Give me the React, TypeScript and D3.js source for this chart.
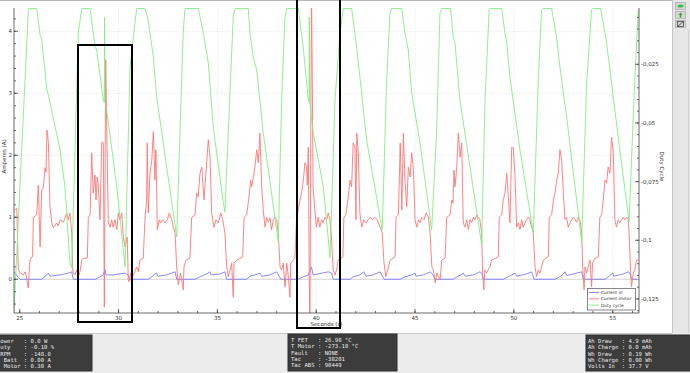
import React from "react";
import * as d3 from "d3";

// ---------- data ----------
const xTicks = [25, 30, 35, 40, 45, 50, 55];
const ampTicks = [0, 1, 2, 3, 4];
const dutyTicks = [-0.025, -0.05, -0.075, -0.1, -0.125];
const dutyTickLabels = ["-0,025", "-0,05", "-0,075", "-0,1", "-0,125"];
const seriesNames = ["Current in", "Current motor", "Duty cycle"];

// Duty cycle (right axis) [seconds, duty]
const dutyCycle: [number, number][] = [
  [24.71, -0.1304], [25.44, -0.0012], [25.86, -0.0012],
  [26.03, -0.01252], [26.11, -0.0138], [26.37, -0.03595], [26.45, -0.03807], [27.04, -0.0615], [27.29, -0.07726], [27.54, -0.10963], [27.63, -0.11176],
  [27.96, -0.01167], [28.14, -0.0012], [28.56, -0.0012],
  [28.81, -0.01763], [28.89, -0.01891], [29.23, -0.0402], [29.28, -0.0411], [29.29, -0.005], [29.31, -0.0411], [29.4, -0.04446], [29.91, -0.07726], [30.33, -0.11133],
  [30.58, -0.02615], [30.83, -0.00741], [30.92, -0.0012], [31.34, -0.0012],
  [31.5, -0.00613], [31.76, -0.02189], [31.93, -0.03893], [32.6, -0.07854], [32.94, -0.09855],
  [33.27, -0.01167], [33.36, -0.0012], [34.03, -0.0012],
  [34.29, -0.01167], [34.54, -0.02445], [34.79, -0.0517], [35.3, -0.08407], [35.38, -0.08791],
  [35.8, -0.00485], [35.89, -0.0012], [36.56, -0.0012],
  [36.65, -0.01167], [36.82, -0.02232], [36.99, -0.02743], [37.32, -0.05426], [38.08, -0.10068],
  [38.25, -0.0402], [38.42, -0.00485], [38.51, -0.0012], [39.09, -0.0012],
  [39.34, -0.01763], [39.6, -0.0402], [39.64, -0.041], [39.65, -0.0049], [39.67, -0.041], [39.85, -0.05426], [40.36, -0.07726], [40.7, -0.1075],
  [40.95, -0.0402], [41.2, -0.01167], [41.37, -0.0012], [41.79, -0.0012],
  [41.96, -0.01167], [42.21, -0.03041], [42.55, -0.05724], [43.34, -0.09557],
  [43.56, -0.03296], [43.73, -0.00315], [43.82, -0.0012], [44.32, -0.0012],
  [44.49, -0.01167], [44.66, -0.01891], [44.83, -0.03722], [45.25, -0.05852], [45.84, -0.09557],
  [46.09, -0.05426], [46.26, -0.00315], [46.35, -0.0012], [46.8, -0.0012],
  [46.93, -0.01337], [47.02, -0.01593], [47.27, -0.0402], [47.78, -0.06874], [48.37, -0.10196],
  [48.54, -0.0402], [48.75, -0.00187], [48.79, -0.0012], [49.38, -0.0012],
  [49.55, -0.01167], [49.64, -0.01593], [49.8, -0.03041], [50.31, -0.0615], [50.98, -0.09685],
  [51.23, -0.03296], [51.4, -0.00187], [51.48, -0.0012], [51.91, -0.0012],
  [52.16, -0.01337], [52.33, -0.02615], [52.67, -0.04745], [53.43, -0.10068],
  [53.68, -0.03296], [53.93, -0.00187], [54.01, -0.0012], [54.39, -0.0012],
  [54.61, -0.01167], [54.69, -0.01593], [54.94, -0.03296], [55.36, -0.0615], [55.83, -0.09216],
  [56.07, -0.0402], [56.29, -0.00187],
];

// Current motor (left axis) [seconds, amperes]
const currentMotor: [number, number][] = [
  [24.71, 1.11], [24.85, 1.15], [24.89, 0.63], [24.93, 0.15], [25.02, 0.1], [25.18, 0.07], [25.27, 0.12], [25.35, 0.02], [25.43, -0.14],
  [25.52, 0.31], [25.61, 0.36], [25.65, 0.36], [25.69, 1.0], [25.86, 1.04], [25.94, 1.52], [26.03, 0.52], [26.11, 1.44], [26.19, 1.47],
  [26.28, 1.8], [26.33, 1.73], [26.38, 2.41], [26.45, 2.2], [26.53, 1.17], [26.62, 0.91], [26.7, 0.83], [26.87, 0.91], [26.95, 0.86],
  [27.04, 0.96], [27.21, 0.92], [27.38, 1.07], [27.46, 0.96], [27.54, 1.07], [27.63, 0.75],
  [27.68, 0.15], [27.71, 0.1], [27.8, 0.07], [27.88, 0.15], [27.96, 0.04], [28.05, 0.12], [28.14, 0.31], [28.22, 0.34], [28.42, 0.34],
  [28.47, 1.0], [28.56, 1.04], [28.64, 2.04], [28.72, 1.39], [28.81, 1.68], [28.86, 1.28], [28.92, 1.65], [28.98, 1.49], [29.06, 0.96],
  [29.15, 2.21], [29.23, 2.2], [29.28, -0.45], [29.35, 3.54], [29.4, 2.46], [29.48, 0.91], [29.57, 0.84], [29.65, 0.96], [29.73, 0.84],
  [29.82, 0.96], [29.91, 0.8], [29.99, 1.07], [30.07, 0.96], [30.16, 1.07], [30.24, 0.68], [30.33, 0.52], [30.44, 0.68], [30.49, -0.01], [30.54, -0.04],
  [30.61, 0.1], [30.75, 0.07], [30.92, 0.2], [31.0, 0.12], [31.08, 0.31], [31.25, 0.34], [31.34, 1.0], [31.42, 1.28], [31.45, 2.2],
  [31.5, 1.07], [31.56, 1.49], [31.59, 1.71], [31.68, 1.92], [31.76, 2.38], [31.84, 1.6], [31.89, 2.09], [31.96, 0.8], [32.06, 0.96],
  [32.13, 0.91], [32.23, 0.96], [32.35, 0.91], [32.47, 0.96], [32.57, 1.07], [32.69, 0.96], [32.77, 0.84], [32.86, 0.75],
  [32.94, 0.2], [33.02, -0.09], [33.14, 0.1], [33.27, -0.17], [33.31, 0.2], [33.41, 0.31], [33.61, 0.34], [33.7, 1.0], [33.87, 1.04],
  [33.95, 1.39], [34.03, 1.33], [34.12, 1.71], [34.21, 1.81], [34.32, 1.28], [34.42, 1.71], [34.54, 2.25], [34.63, 1.97], [34.71, 1.07],
  [34.83, 0.84], [34.93, 0.96], [35.05, 0.91], [35.17, 1.07], [35.27, 0.96], [35.38, 0.75],
  [35.47, 0.2], [35.55, 0.04], [35.64, 0.15], [35.72, 0.26], [35.8, -0.29], [35.84, 0.26], [35.98, 0.31], [36.28, 0.36], [36.35, 1.0],
  [36.48, 1.04], [36.61, 1.36], [36.68, 1.6], [36.73, 1.49], [36.82, 1.65], [36.9, 1.81], [36.99, 2.09], [37.07, 1.88], [37.15, 2.36],
  [37.24, 1.49], [37.32, 1.12], [37.41, 0.84], [37.49, 1.0], [37.57, 0.92], [37.66, 0.99], [37.74, 0.8], [37.83, 0.96], [37.91, 1.0],
  [38.0, 0.96], [38.08, 0.75],
  [38.17, 0.2], [38.25, 0.15], [38.33, 0.26], [38.42, -0.12], [38.51, 0.26], [38.59, 0.04], [38.67, -0.29], [38.71, 0.26], [38.84, 0.31],
  [38.92, 0.34], [39.01, 1.0], [39.09, 1.12], [39.18, 1.28], [39.26, 1.39], [39.34, 1.57], [39.43, 1.88], [39.51, 1.81], [39.55, 1.52],
  [39.6, 2.13], [39.65, -0.06], [39.68, -0.75], [39.76, 4.7], [39.81, 2.89], [39.84, 1.49], [39.93, 1.12], [40.01, 0.84], [40.1, 1.0],
  [40.18, 0.84], [40.27, 0.96], [40.35, 0.91], [40.44, 1.0], [40.53, 0.96], [40.61, 1.07], [40.69, 0.96], [40.78, 0.63],
  [40.86, 0.15], [40.95, 0.07], [41.03, 0.15], [41.11, 0.31], [41.24, 0.34], [41.35, 0.36], [41.4, 1.0], [41.5, 1.04], [41.62, 1.33],
  [41.71, 1.6], [41.79, 1.49], [41.87, 2.2], [41.96, 2.13], [42.01, 0.96], [42.05, 2.36], [42.13, 2.04], [42.21, 1.07], [42.3, 0.84],
  [42.41, 0.96], [42.52, 0.91], [42.63, 0.96], [42.75, 1.0], [42.86, 0.96], [42.97, 1.0], [43.09, 0.96], [43.23, 0.84], [43.34, 0.75],
  [43.43, 0.26], [43.52, 0.04], [43.62, 0.15], [43.74, 0.31], [43.99, 0.36], [44.04, 1.0], [44.16, 1.04], [44.25, 2.2], [44.33, 1.12],
  [44.41, 2.36], [44.49, 1.6], [44.58, 1.17], [44.66, 1.81], [44.75, 1.65], [44.83, 2.04], [44.92, 1.76], [45.0, 0.96], [45.09, 0.84],
  [45.17, 0.96], [45.25, 0.91], [45.34, 1.0], [45.46, 0.96], [45.56, 1.07], [45.68, 1.0], [45.76, 0.75],
  [45.85, 0.2], [45.93, 0.15], [46.02, -0.06], [46.1, 0.1], [46.18, 0.04], [46.27, -0.01], [46.35, 0.31], [46.52, 0.34], [46.6, 1.0],
  [46.77, 1.04], [46.86, 1.28], [46.92, 1.23], [46.97, 1.76], [47.02, 1.49], [47.11, 1.81], [47.19, 2.36], [47.28, 1.97], [47.36, 2.2],
  [47.44, 0.91], [47.53, 0.84], [47.61, 0.96], [47.7, 0.8], [47.78, 0.96], [47.86, 0.91], [47.95, 1.0], [48.03, 0.96], [48.12, 1.04],
  [48.2, 1.0], [48.28, 0.96], [48.37, 0.75],
  [48.42, 0.1], [48.48, -0.17], [48.53, 0.15], [48.62, 0.1], [48.7, 0.15], [48.79, 0.2], [48.87, 0.31], [49.21, 0.36], [49.26, 1.0],
  [49.38, 1.04], [49.46, 1.28], [49.55, 1.39], [49.64, 1.71], [49.72, 1.33], [49.8, 0.91], [49.89, 2.13], [49.97, 2.12], [50.06, 1.65],
  [50.14, 0.84], [50.22, 0.91], [50.31, 0.8], [50.39, 0.96], [50.47, 0.84], [50.64, 0.96], [50.73, 1.0], [50.81, 0.96], [50.9, 0.84], [50.98, 0.75],
  [51.07, 0.2], [51.15, 0.04], [51.23, 0.15], [51.32, 0.1], [51.4, 0.2], [51.49, 0.31], [51.74, 0.36], [51.79, 1.0], [51.91, 1.04],
  [52.0, 1.28], [52.08, 1.39], [52.17, 1.6], [52.25, 1.71], [52.33, 2.09], [52.42, 1.92], [52.5, 1.39], [52.59, 0.96], [52.67, 1.0],
  [52.75, 0.84], [52.84, 0.91], [52.92, 0.96], [53.01, 1.0], [53.09, 0.96], [53.18, 0.92], [53.26, 1.0], [53.34, 0.96], [53.43, 0.75],
  [53.48, 0.2], [53.55, -0.17], [53.6, 0.2], [53.68, 0.1], [53.76, 0.2], [53.85, 0.31], [53.93, -0.12], [53.98, 0.26], [54.1, 0.34],
  [54.27, 0.36], [54.35, 1.0], [54.44, 1.04], [54.52, 1.28], [54.61, 1.6], [54.69, 1.55], [54.77, 1.81], [54.86, 1.71], [54.94, 2.29],
  [55.03, 2.04], [55.11, 0.96], [55.19, 0.84], [55.28, 0.96], [55.36, 0.91], [55.45, 0.96], [55.53, 1.0], [55.61, 0.96], [55.7, 1.0],
  [55.78, 0.96], [55.83, 0.75], [55.9, 0.15], [55.95, -0.12], [56.04, 0.1], [56.12, 0.15], [56.2, 0.31], [56.29, 0.31],
];

// Current in (left axis) [seconds, amperes]
const currentIn: [number, number][] = [
  [24.71, 0.12], [24.93, 0.03], [25.02, 0],
  [26.11, 0], [26.37, 0.07], [26.45, 0.1], [26.53, 0.05], [27.04, 0.07], [27.46, 0.1], [27.63, 0.12], [27.71, 0],
  [28.81, 0], [29.06, 0.04], [29.23, 0.07], [29.31, 0.16], [29.37, 0.07], [29.73, 0.07], [30.33, 0.1], [30.49, 0.07], [30.58, 0],
  [31.5, 0], [31.68, 0.04], [31.84, 0.085], [31.93, 0.1], [31.98, 0.05], [32.43, 0.07], [32.86, 0.12], [32.94, 0],
  [33.87, 0], [34.12, 0.04], [34.45, 0.085], [34.63, 0.12], [34.67, 0.07], [35.13, 0.085], [35.38, 0.12], [35.47, 0],
  [36.48, 0], [36.65, 0.05], [36.9, 0.07], [37.15, 0.1], [37.24, 0.05], [37.66, 0.07], [38.0, 0.12], [38.21, 0],
  [39.09, 0], [39.34, 0.04], [39.6, 0.07], [39.76, 0.2], [39.84, 0.07], [40.61, 0.12], [40.78, 0.1], [40.86, 0],
  [41.71, 0], [41.87, 0.04], [42.21, 0.07], [42.41, 0.12], [42.52, 0.05], [42.88, 0.07], [43.23, 0.12], [43.44, 0],
  [44.25, 0], [44.49, 0.04], [44.83, 0.07], [45.0, 0.1], [45.05, 0.05], [45.42, 0.07], [45.76, 0.12], [45.88, 0.085], [46.02, 0],
  [46.93, 0], [47.11, 0.04], [47.31, 0.07], [47.44, 0.1], [47.53, 0.05], [47.95, 0.07], [48.28, 0.12], [48.37, 0.1], [48.45, 0],
  [49.46, 0], [49.72, 0.04], [49.97, 0.085], [50.06, 0.1], [50.14, 0.05], [50.64, 0.085], [50.9, 0.12], [51.02, 0],
  [52.08, 0], [52.33, 0.04], [52.5, 0.085], [52.59, 0.12], [52.67, 0.06], [53.18, 0.1], [53.43, 0.12], [53.51, 0],
  [54.61, 0], [54.77, 0.04], [55.0, 0.1], [55.05, 0.05], [55.53, 0.085], [55.78, 0.12], [55.87, 0.1], [55.95, 0], [56.29, 0],
];

// The left panel is scrolled so its first characters are hidden in the reference; the visible part is shown.
const leftPanel = ["ower   : 0.0 W", "uty    : -0.10 %", "RPM    : -148.0", " Batt  : 0.00 A", " Motor : 0.30 A"];
const midPanel = ["T FET   : 26.90 °C", "T Motor : -273.10 °C", "Fault   : NONE", "Tac     : -38201", "Tac ABS : 90449"];
const rightPanel = ["Ah Draw   : 4.9 mAh", "Ah Charge : 0.0 mAh", "Wh Draw   : 0.19 Wh", "Wh Charge : 0.00 Wh", "Volts In  : 37.7 V"];

// ---------- layout ----------
const W = 690;
const H = 373;
const L = 14, R = 639, T = 8, B = 313;

const x = d3.scaleLinear().domain([24.71, 56.33]).range([L, R]);
const yA = d3.scaleLinear().domain([-0.544, 4.376]).range([B, T]);
const yD = d3.scaleLinear().domain([-0.131, -0.001]).range([B, T]);

const COL_IN = "#7c7cff";
const COL_MOTOR = "#ff7676";
const COL_DUTY = "#80ee80";
const seriesColors = [COL_IN, COL_MOTOR, COL_DUTY];

const lineA = d3.line<[number, number]>().x((d) => x(d[0])).y((d) => yA(d[1]));
const lineD = d3.line<[number, number]>().x((d) => x(d[0])).y((d) => yD(d[1]));

const tickFont = "DejaVu Sans, sans-serif";
const monoFont = "DejaVu Sans Mono, monospace";

function Panel({ x0, y0, w, h, tx, lines }: { x0: number; y0: number; w: number; h: number; tx: number; lines: string[] }) {
  return (
    <g>
      <rect x={x0} y={y0} width={w} height={h} fill="#3c3c3c" stroke="#2c2c2c" strokeWidth={1} />
      {lines.map((s, i) => (
        <text key={i} x={tx} y={y0 + 8.2 + i * 6.2} fontFamily={monoFont} fontSize={5.6} fill="#e8e8e8" style={{ whiteSpace: "pre" }}>
          {s}
        </text>
      ))}
    </g>
  );
}

export default function App() {
  const xSub = d3.range(25, 56.33, 1);
  const aSub = d3.range(-0.4, 4.38, 0.2);
  const dSub = d3.range(-0.13, -0.001, 0.005);
  return (
    <svg width={W} height={H} style={{ position: "absolute", left: 0, top: 0, display: "block" }} xmlns="http://www.w3.org/2000/svg">
      <defs>
        <clipPath id="plotClip">
          <rect x={L} y={T} width={R - L} height={B - T} />
        </clipPath>
      </defs>
      {/* backgrounds */}
      <rect x={0} y={0} width={W} height={H} fill="#ececec" />
      <rect x={0} y={0} width={672} height={333} fill="#ffffff" />
      <line x1={0} x2={672} y1={333.5} y2={333.5} stroke="#c8c8c8" />
      <line x1={0} x2={672} y1={0.5} y2={0.5} stroke="#b8b8b8" />
      {/* right tool strip */}
      <rect x={672} y={0} width={18} height={333} fill="#e6e6e6" />
      <line x1={672.5} x2={672.5} y1={0} y2={333} stroke="#c4c4c4" />
      <line x1={688.5} x2={688.5} y1={30} y2={333} stroke="#d0d0d0" />
      <rect x={675.5} y={2.5} width={10} height={7} fill="#d6d6d6" stroke="#a8a8a8" strokeWidth={0.7} />
      <ellipse cx={680.5} cy={6} rx={3} ry={1.6} fill="#3bbf3b" />
      <rect x={675.5} y={11.5} width={10} height={7} fill="#d6d6d6" stroke="#a8a8a8" strokeWidth={0.7} />
      <path d="M680.5 12.5 L682.5 15 L681.3 15 L681.3 17.5 L679.7 17.5 L679.7 15 L678.5 15 Z" fill="#2fa82f" />
      <rect x={675.5} y={20.5} width={10} height={7} fill="#d6d6d6" stroke="#a8a8a8" strokeWidth={0.7} />
      <rect x={677.5} y={21.5} width={6} height={5} fill="none" stroke="#333" strokeWidth={0.7} />
      <line x1={677.5} y1={26.5} x2={683.5} y2={21.5} stroke="#333" strokeWidth={0.7} />

      {/* grid */}
      {xTicks.map((t) => (
        <line key={"gx" + t} x1={x(t)} x2={x(t)} y1={T} y2={B} stroke="#d4d4d4" strokeWidth={0.6} strokeDasharray="1,1.5" />
      ))}
      {ampTicks.filter((a) => a !== 0).map((a) => (
        <line key={"gy" + a} x1={L} x2={R} y1={yA(a)} y2={yA(a)} stroke="#d4d4d4" strokeWidth={0.6} strokeDasharray="1,1.5" />
      ))}
      <line x1={L} x2={R} y1={yA(0)} y2={yA(0)} stroke="#c8c8c8" strokeWidth={0.8} />

      {/* series */}
      <g clipPath="url(#plotClip)" fill="none" strokeLinejoin="round">
        <path d={lineA(currentIn) || ""} stroke={COL_IN} strokeWidth={0.9} />
        <path d={lineA(currentMotor) || ""} stroke={COL_MOTOR} strokeWidth={0.9} />
        <path d={lineD(dutyCycle) || ""} stroke={COL_DUTY} strokeWidth={0.9} />
      </g>

      {/* axes */}
      <g stroke="#444" strokeWidth={0.8}>
        <line x1={L} x2={L} y1={T} y2={B} />
        <line x1={R} x2={R} y1={T} y2={B} />
        <line x1={L} x2={R} y1={B} y2={B} />
        {xTicks.map((t) => (
          <line key={"xt" + t} x1={x(t)} x2={x(t)} y1={B} y2={B - 4} />
        ))}
        {xSub.map((t) => (
          <line key={"xs" + t} x1={x(t)} x2={x(t)} y1={B} y2={B - 2} />
        ))}
        {ampTicks.map((a) => (
          <line key={"at" + a} x1={L} x2={L + 4} y1={yA(a)} y2={yA(a)} />
        ))}
        {aSub.map((a, i) => (
          <line key={"as" + i} x1={L} x2={L + 2} y1={yA(a)} y2={yA(a)} />
        ))}
        {dutyTicks.map((d) => (
          <line key={"dt" + d} x1={R} x2={R - 4} y1={yD(d)} y2={yD(d)} />
        ))}
        {dSub.map((d, i) => (
          <line key={"ds" + i} x1={R} x2={R - 2} y1={yD(d)} y2={yD(d)} />
        ))}
      </g>

      {/* tick labels */}
      <g fontFamily={tickFont} fontSize={5.5} fill="#333">
        {xTicks.map((t) => (
          <text key={"xl" + t} x={x(t)} y={320} textAnchor="middle">{t}</text>
        ))}
        {ampTicks.map((a) => (
          <text key={"al" + a} x={12} y={yA(a) + 2} textAnchor="end">{a}</text>
        ))}
        {dutyTicks.map((d, i) => (
          <text key={"dl" + i} x={641} y={yD(d) + 2} textAnchor="start">{dutyTickLabels[i]}</text>
        ))}
        <text x={(L + R) / 2} y={326} textAnchor="middle">Seconds (s)</text>
        <text transform={`translate(6,${(T + B) / 2 - 4}) rotate(-90)`} textAnchor="middle">Amperes (A)</text>
        <text transform={`translate(660,${(T + B) / 2 + 6}) rotate(90)`} textAnchor="middle">Duty Cycle</text>
      </g>

      {/* legend */}
      <g>
        <rect x={587.5} y={288.5} width={48} height={21.5} fill="#ffffff" stroke="#555" strokeWidth={0.7} />
        {seriesNames.map((n, i) => (
          <g key={n}>
            <line x1={589} x2={599} y1={292.5 + i * 6.3} y2={292.5 + i * 6.3} stroke={seriesColors[i]} strokeWidth={0.9} />
            <text x={601} y={294 + i * 6.3} fontFamily={tickFont} fontSize={4.3} fill="#333">{n}</text>
          </g>
        ))}
      </g>

      {/* annotation boxes */}
      <rect x={78} y={45} width={54} height={277} fill="none" stroke="#000" strokeWidth={2} />
      <rect x={297} y={-3} width={43} height={331} fill="none" stroke="#000" strokeWidth={2} />

      {/* bottom info panels */}
      <Panel x0={-2} y0={335} w={94} h={36} tx={0.3} lines={leftPanel} />
      <Panel x0={288} y0={334} w={109} h={37} tx={291} lines={midPanel} />
      <Panel x0={586} y0={335} w={106} h={36} tx={588} lines={rightPanel} />
    </svg>
  );
}
